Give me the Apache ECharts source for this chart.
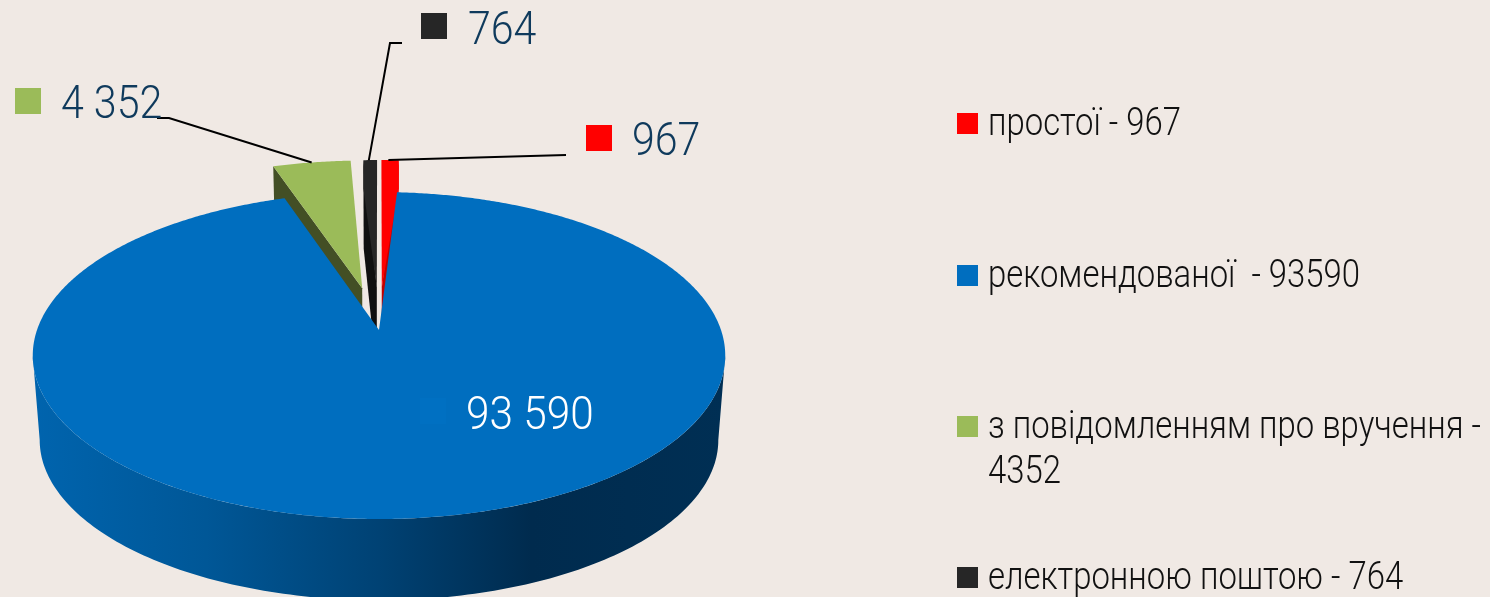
<!DOCTYPE html>
<html>
<head>
<meta charset="utf-8">
<style>
  html, body { margin: 0; padding: 0; background: #f0e9e4; }
  #main { width: 1490px; height: 597px; }
</style>
<script src="https://cdn.jsdelivr.net/npm/echarts@6/dist/echarts.min.js"></script>
</head>
<body>
<div id="main"></div>
<script>
var categories = ['простої', 'рекомендованої ', 'з повідомленням про вручення', 'електронною поштою'];
var values = [967, 93590, 4352, 764];
var valueLabels = ['967', '93 590', '4 352', '764'];
var legendLabels = ['простої - 967', 'рекомендованої  - 93590', 'з повідомленням про вручення -\n4352', 'електронною поштою - 764'];

var topColors = ['#ff0000', '#006ebf', '#9bbb59', '#262626'];
var wallColors = ['#c00000', '#005fa6', '#434f25', '#101010'];

// perspective of the disc: apex of the blue slice, radii, foreshortening
var CX = 379, AY = 330, RX = 342, RY = 159.5, P = 0.156;
var DEPTH = 85, BOTTOM_SCALE = 0.98, EXPLODE = 0.278;
var SHOULDER = 28; // the two thin slices keep their bright colour this far down the rim corner

// where each label goes: key square, text start, text top, leader elbows
var labelPos = [
  { key: [586, 125], text: [632, 120], line: [[566, 155]], anchor: 0.4 },
  { key: [420, 398], text: [466, 394], line: null },
  { key: [15, 88], text: [61, 83], line: [[169, 118], [157, 118]], anchor: 0.5 },
  { key: [421, 13], text: [468, 9], line: [[390, 43], [402, 43]], anchor: 0.4 }
];
var legendY = [113, 265, 416, 567];

var total = values.reduce(function (a, b) { return a + b; }, 0);

function project(u, v, s, dy) {
  var den = 1 + P * v;
  return [CX + RX * s * u / den, AY + dy - RY * s * v / den];
}

function renderSlice(params, api) {
  var i = params.dataIndex;
  var before = 0;
  for (var k = 0; k < i; k++) before += values[k];
  var start = before / total * Math.PI * 2;
  var end = start + api.value(0) / total * Math.PI * 2;
  var mid = (start + end) / 2;
  var isBase = i === 1;
  var ex = isBase ? 0 : EXPLODE * Math.sin(mid);
  var ey = isBase ? 0 : EXPLODE * Math.cos(mid);
  var z = isBase ? 5 : 1;

  function rim(t) { return project(Math.sin(t) + ex, Math.cos(t) + ey, 1, 0); }
  function rimLow(t) { return project(Math.sin(t) + ex, Math.cos(t) + ey, BOTTOM_SCALE, DEPTH); }
  var apex = project(ex, ey, 1, 0);
  var apexLow = project(ex, ey, BOTTOM_SCALE, DEPTH);

  var topPts = [apex];
  var n = Math.max(4, Math.round((end - start) * 120));
  if (i === 3) topPts.push([rim(start)[0], rim(start)[1] + SHOULDER]);
  for (var j = 0; j <= n; j++) topPts.push(rim(start + (end - start) * j / n));
  if (i === 0) topPts.push([rim(end)[0], rim(end)[1] + SHOULDER]);

  var children = [];
  if (isBase) {
    // outer wall of the big slice, between the two widest points of the ellipse
    var wall = [];
    for (var a = 99; a <= 261; a += 1) wall.push(rim(a * Math.PI / 180));
    for (var b = 261; b >= 99; b -= 1) wall.push(rimLow(b * Math.PI / 180));
    children.push({
      type: 'polygon', z2: z, shape: { points: wall },
      style: {
        fill: new echarts.graphic.LinearGradient(0, 0, 1, 0, [
          { offset: 0, color: '#0064ae' },
          { offset: 0.25, color: '#005797' },
          { offset: 0.5, color: '#004274' },
          { offset: 0.72, color: '#002b4e' },
          { offset: 1, color: '#002f54' }
        ])
      }
    });
  } else {
    // radial face seen from the camera: right side for the first slice, left for the others
    var t = i === 0 ? end : start;
    children.push({
      type: 'polygon', z2: z,
      shape: { points: [apex, rim(t), rimLow(t), apexLow] },
      style: { fill: wallColors[i] }
    });
  }
  children.push({
    type: 'polygon', z2: z + 1, shape: { points: topPts },
    style: { fill: topColors[i] }
  });

  // label key and value text
  var pos = labelPos[i];
  children.push({
    type: 'rect', z2: 10,
    shape: { x: pos.key[0], y: pos.key[1], width: 26, height: 26 },
    style: { fill: isBase ? '#0070c2' : topColors[i] }
  });
  children.push({
    type: 'text', z2: 11, x: pos.text[0], y: pos.text[1], scaleX: isBase ? 0.9 : 0.875,
    style: {
      text: valueLabels[i], fill: isBase ? '#ffffff' : '#0f3a5c',
      fontFamily: 'Roboto', fontWeight: 300, fontSize: 47,
      textAlign: 'left'
    }
  });
  if (pos.line) {
    var p = rim(start + (end - start) * pos.anchor);
    children.push({
      type: 'polyline', z2: 9, shape: { points: [p].concat(pos.line) },
      style: { stroke: '#000000', lineWidth: 2, fill: null }
    });
  }

  // legend entry
  var ly = legendY[i];
  children.push({
    type: 'rect', z2: 10, shape: { x: 957, y: ly, width: 21, height: 21 },
    style: { fill: topColors[i] }
  });
  children.push({
    type: 'text', z2: 11, x: 988, y: ly - 10, scaleX: 0.865,
    style: {
      text: legendLabels[i], fill: '#111111',
      fontFamily: 'Roboto', fontWeight: 300, fontSize: 38, lineHeight: 45,
      textAlign: 'left'
    }
  });
  return { type: 'group', children: children };
}

var myChart = echarts.init(document.getElementById('main'), null, { renderer: 'canvas' });
var option = {
  backgroundColor: '#f0e9e4',
  animation: false,
  series: [{
    type: 'custom',
    coordinateSystem: 'none',
    silent: true,
    renderItem: renderSlice,
    data: values.map(function (v, i) { return { name: categories[i], value: [v] }; })
  }]
};
myChart.setOption(option);
</script>
</body>
</html>
